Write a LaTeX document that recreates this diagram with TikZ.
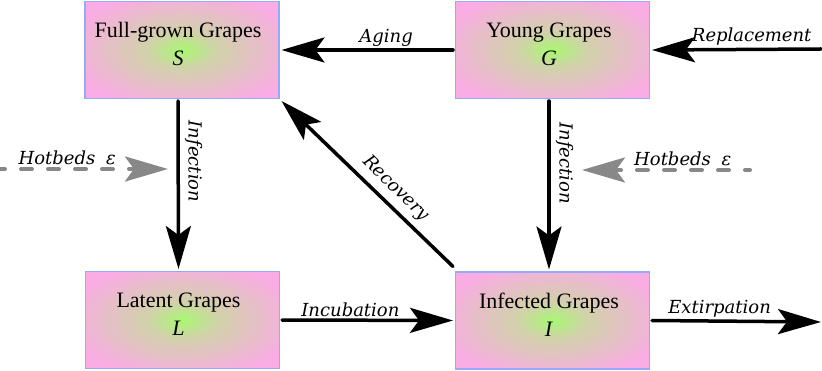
\documentclass[tikz,border=0pt]{standalone}
\usepackage{fontspec}
\setmainfont{Liberation Serif}
\newfontfamily\labelfont{DejaVu Serif}
\usetikzlibrary{arrows.meta}
\definecolor{boxpink}{RGB}{250,172,228}
\definecolor{boxgreen}{RGB}{168,248,112}
\colorlet{boxmid}{boxgreen!50!boxpink}
\definecolor{boxborder}{RGB}{150,170,250}
\definecolor{hotgray}{RGB}{136,136,136}
\pgfdeclareradialshading{grapeshade}{\pgfpointorigin}{color(0bp)=(boxgreen); color(9bp)=(boxmid); color(30bp)=(boxpink); color(50bp)=(boxpink)}
\begin{document}
\begin{tikzpicture}[x=1pt,y=-1pt,
  grape/.style={rectangle, draw=boxborder, line width=1.8pt,
    minimum width=194pt, minimum height=97pt,
    shading=grapeshade,
    align=center, font=\fontsize{22}{28}\selectfont, outer sep=2.5pt},
  flow/.style={line width=3.5pt, line cap=round,
    -{Stealth[length=43pt,width=25pt,inset=9pt]}},
  hot/.style={line width=4pt, hotgray, dash pattern=on 11pt off 16pt,
    dash phase=6pt, line cap=round,
    -{Stealth[length=43pt,width=25pt,inset=9pt]}},
  lbl/.style={text=black, font=\labelfont\itshape\fontsize{18}{20}\selectfont,
    inner sep=2pt},
]
\useasboundingbox (0,0) rectangle (822,371);
\node[grape] (S) at (182,50) {Full-grown Grapes\hspace*{8pt}\\\textit{S}\rule[-12pt]{0pt}{12pt}\hspace*{8pt}};
\node[grape] (G) at (552.5,50) {Young Grapes\hspace*{7pt}\\\textit{G}\rule[-12pt]{0pt}{12pt}\hspace*{7pt}};
\node[grape] (L) at (182.5,320) {Latent Grapes\hspace*{8pt}\\\textit{L}\rule[-12pt]{0pt}{12pt}\hspace*{8pt}};
\node[grape] (I) at (552.5,320.5) {Infected Grapes\hspace*{7pt}\\\textit{I}\rule[-12pt]{0pt}{12pt}\hspace*{7pt}};
\coordinate (rep) at (821,49);
\coordinate (ext) at (821,322);
\coordinate (hl) at (0,169);
\coordinate (hlt) at (168,169);
\coordinate (hr) at (750,170);
\coordinate (hrt) at (582,170);
\draw[flow] (G.west) -- node[lbl, above, pos=0.39] {Aging} (S.east);
\draw[flow] (rep) -- node[lbl, above, pos=0.41] {Replacement} (G.east);
\draw[flow] ([xshift=-4pt]S.south) -- node[lbl, rotate=-90, anchor=south, pos=0.36, inner sep=5pt] {Infection} ([xshift=-4pt]L.north);
\draw[flow] ([xshift=-3.5pt]G.south) -- node[lbl, rotate=-90, anchor=south, pos=0.37, inner sep=5pt] {Infection} ([xshift=-3.5pt]I.north);
\draw[flow] ([yshift=3pt]I.north west) -- node[lbl, sloped, above, pos=0.4, inner sep=6pt] {Recovery} (S.south east);
\draw[flow] (L.east) -- node[lbl, above, pos=0.4] {Incubation} (I.west);
\draw[flow] (I.east) -- node[lbl, above, pos=0.4] {Extirpation} (ext);
\draw[hot] (hl) -- node[lbl, above, pos=0.4] {Hotbeds\hspace{0.6em}ε} (hlt);
\draw[hot] (hr) -- node[lbl, above, pos=0.4] {Hotbeds\hspace{0.6em}ε} (hrt);
\end{tikzpicture}
\end{document}
